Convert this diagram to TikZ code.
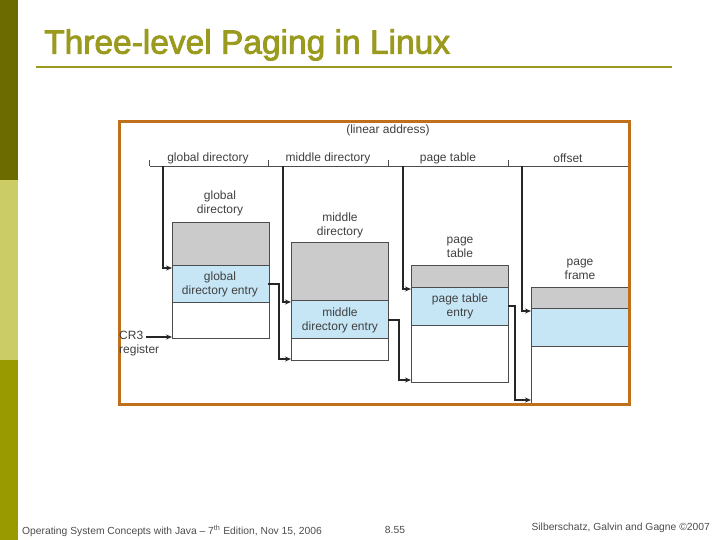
\documentclass[tikz,border=0pt]{standalone}
\usepackage{fontspec}
\setmainfont{Liberation Sans}
\usetikzlibrary{arrows.meta}
\definecolor{olive1}{HTML}{6B6B00}
\definecolor{olive2}{HTML}{CCCC66}
\definecolor{olive3}{HTML}{999900}
\definecolor{titlec}{HTML}{9A9A1E}
\definecolor{frameor}{HTML}{C0701A}
\definecolor{grayc}{HTML}{CBCBCB}
\definecolor{bluec}{HTML}{C6E6F6}
\begin{document}
\begin{tikzpicture}[x=1pt,y=-1pt,
  lbl/.style={font=\fontsize{12}{14}\selectfont,text=black!75,align=center,inner sep=0pt},
  cell/.style={draw=black!70,line width=0.6pt},
  arr/.style={draw=black!85,line width=1.4pt,-{Stealth[length=6pt,width=5pt]}},
  foot/.style={font=\fontsize{10.3}{12}\selectfont,text=black!70,inner sep=0pt}]
\useasboundingbox (0,0) rectangle (720,540);
\fill[olive1] (0,0) rectangle (18,180);
\fill[olive2] (0,180) rectangle (18,360);
\fill[olive3] (0,360) rectangle (18,540);
\node[anchor=west,font=\fontsize{33.5}{36}\selectfont,text=titlec,inner sep=0pt] (title) at (44,45) {\addfontfeature{FakeBold=2.5}Three-level Paging in Linux};
\draw[titlec,line width=2.2pt] (36,67) -- (672,67);
% frame
\draw[frameor,line width=3pt,fill=white] (119,122) rectangle (629,404);
\node[lbl] (la) at (388,130) {(linear address)};
\draw[black!70,line width=0.7pt] (150,166) -- (628,166);
\foreach \x in {149,268,388,508} \draw[black!70,line width=0.7pt] (\x,160) -- (\x,166);
\node[lbl] (fgd) at (208,158) {global directory};
\node[lbl] (fmd) at (328,158) {middle directory};
\node[lbl] (fpt) at (448,158) {page table};
\node[lbl] (fof) at (568,158) {offset};
% tables
\newcommand{\tbl}[5]{%
 \fill[grayc] (#1,#2) rectangle (#1+97,#3);
 \fill[bluec] (#1,#3) rectangle (#1+97,#4);
 \draw[cell] (#1,#2) rectangle (#1+97,#5);
 \draw[cell] (#1,#3) -- (#1+97,#3);
 \draw[cell] (#1,#4) -- (#1+97,#4);}
\tbl{172}{222}{265}{302}{338}
\tbl{291}{242}{300}{338}{360}
\tbl{411}{265}{287}{325}{382}
\fill[grayc] (531,287) rectangle (628,308);
\fill[bluec] (531,308) rectangle (628,346);
\draw[cell] (531,402.5) -- (531,287) -- (628,287);
\draw[cell] (531,308) -- (628,308);
\draw[cell] (531,346) -- (628,346);
\node[lbl] (tgd) at (220,203) {global\\directory};
\node[lbl] (tmd) at (340,225) {middle\\directory};
\node[lbl] (tpt) at (460,247) {page\\table};
\node[lbl] (tpf) at (580,269) {page\\frame};
\node[lbl] (egd) at (220,284) {global\\directory entry};
\node[lbl] (emd) at (340,320) {middle\\directory entry};
\node[lbl] (ept) at (460,306) {page table\\entry};
\node[lbl,align=left,anchor=west] (cr3) at (119,344) {CR3\\register};
\coordinate (a1) at (172,268); \coordinate (a2) at (291,302);
\coordinate (a3) at (411,289); \coordinate (a4) at (531,311);
\coordinate (b1) at (291,359); \coordinate (b2) at (411,380);
\coordinate (b3) at (531,400); \coordinate (c0) at (172,337);
\draw[arr] (163,166) |- (a1);
\draw[arr] (283,166) |- (a2);
\draw[arr] (403,166) |- (a3);
\draw[arr] (522,166) |- (a4);
\draw[arr] (268,284) -- (279,284) |- (b1);
\draw[arr] (388,320) -- (399,320) |- (b2);
\draw[arr] (508,306) -- (515,306) |- (b3);
\draw[arr] (146,337) -- (c0);
\node[foot,anchor=west] (f1) at (22,531) {Operating System Concepts with Java -- 7\textsuperscript{th} Edition, Nov 15, 2006};
\node[foot] (f2) at (395,530) {8.55};
\node[foot,anchor=east] (f3) at (710,528) {Silberschatz, Galvin and Gagne ©2007};
\end{tikzpicture}
\end{document}
